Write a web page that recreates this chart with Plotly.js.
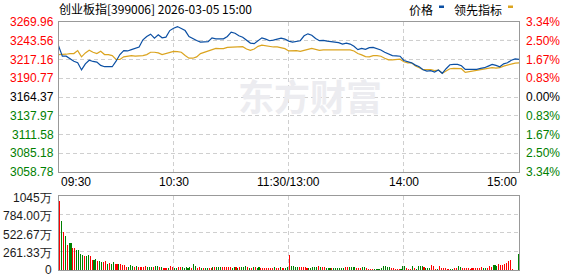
<!DOCTYPE html>
<html>
<head>
<meta charset="utf-8">
<script src="https://cdn.plot.ly/plotly-3.0.1.min.js"></script>
<style>html,body{margin:0;padding:0;background:#fff;}#chart{width:578px;height:276px;}</style>
</head>
<body>
<div id="chart"></div>
<script>
// ---------- data ----------
const titleText = "创业板指[399006] 2026-03-05 15:00";
const prevClose = 3164.37;
const sampleStep = 2; // minutes between price samples
const price = [
3236.6,3221.8,3221.8,3218.1,3214.8,3212.5,3202.5,3211.1,3216.2,3214.4,
3213.5,3208.8,3207.0,3207.0,3207.0,3214.8,3224.1,3229.7,3229.2,3231.0,
3232.4,3234.8,3244.9,3249.6,3252.8,3247.3,3251.9,3247.7,3248.6,3257.9,
3261.1,3263.5,3260.7,3257.9,3249.6,3246.3,3244.0,3241.7,3242.2,3242.2,
3247.7,3246.3,3246.3,3246.3,3249.6,3255.6,3254.2,3250.5,3248.6,3244.0,
3240.3,3239.4,3244.0,3247.7,3245.9,3243.6,3244.5,3245.9,3247.3,3245.9,
3243.1,3241.7,3242.6,3243.6,3250.5,3253.3,3251.4,3246.8,3243.6,3244.0,
3243.1,3242.6,3241.2,3240.8,3238.9,3240.3,3238.9,3235.7,3231.0,3232.9,
3231.5,3233.8,3234.3,3232.4,3230.6,3227.4,3224.6,3222.7,3222.3,3221.8,
3215.8,3213.9,3212.5,3209.3,3207.0,3202.8,3200.9,3201.4,3199.6,3202.3,
3197.7,3204.2,3209.8,3210.2,3210.2,3208.4,3203.3,3203.3,3203.3,3203.3,
3204.7,3205.6,3207.9,3210.2,3208.8,3207.0,3211.1,3212.5,3216.2,3218.1,
3217.2];
const leading = [
3224.1,3224.1,3224.6,3225.5,3225.5,3229.7,3220.9,3226.4,3230.1,3227.4,
3225.5,3228.7,3224.1,3224.1,3222.7,3217.2,3217.2,3220.9,3221.8,3222.7,
3221.8,3221.8,3222.7,3224.1,3227.4,3227.4,3226.4,3224.1,3225.5,3227.4,
3228.7,3228.3,3227.4,3222.7,3219.0,3219.0,3220.9,3225.5,3227.4,3229.7,
3231.0,3232.9,3232.4,3232.4,3234.3,3234.3,3235.2,3235.2,3235.2,3232.0,
3230.1,3232.0,3235.7,3237.5,3236.6,3235.2,3234.8,3234.8,3233.4,3232.4,
3229.2,3229.7,3229.7,3228.7,3229.7,3231.5,3232.9,3231.5,3230.1,3230.6,
3230.6,3230.6,3230.6,3230.6,3229.7,3229.7,3230.6,3229.2,3225.5,3223.6,
3221.3,3220.9,3222.7,3222.7,3221.8,3219.0,3216.7,3216.7,3217.6,3217.6,
3213.9,3212.5,3212.5,3207.9,3205.6,3202.8,3202.8,3202.8,3201.4,3202.3,
3197.7,3201.4,3204.2,3204.7,3204.7,3204.2,3199.1,3200.0,3200.9,3201.4,
3202.3,3204.2,3204.7,3205.6,3205.1,3205.6,3207.9,3209.3,3211.1,3212.1,
3212.5];
// volume per minute (万), and direction (r = up, g = down)
const volume = [
975,685,540,482,351,380,380,307,307,278,
278,230,206,191,191,206,191,148,148,162,
133,133,118,118,133,89,104,89,118,89,
89,89,89,75,75,46,46,75,60,46,
60,46,46,46,46,60,46,46,46,46,
60,60,36,46,31,31,22,31,60,46,
31,31,46,46,46,31,46,31,46,31,
89,60,31,46,31,22,31,31,31,22,
46,46,36,36,36,36,36,36,36,36,
22,36,36,22,36,36,36,60,46,22,
22,36,36,22,36,22,22,22,22,22,
22,22,36,22,22,36,22,22,22,36,
205,60,60,36,36,36,36,36,36,22,
22,22,46,46,46,60,46,36,36,22,
22,22,22,22,22,22,22,22,22,36,
36,36,36,36,46,22,22,22,46,36,
22,15,15,15,15,15,15,15,29,53,
53,44,44,29,24,15,15,15,15,53,
53,29,15,15,53,29,15,53,53,53,
44,29,29,29,68,53,15,15,53,29,
29,29,15,15,15,15,29,29,53,44,
29,29,29,29,15,29,29,29,29,29,
39,29,29,29,53,44,68,68,53,82,
68,68,82,97,126,140,10,0,0,228];
const direction = (
"rgrgrggrrg"+"gggrggrrgg"+"rggrrgrggr"+"rgrrrrgggr"+"grrrrrgggr"+"ggrgrrrgrr"+"ggrrgggggr"+"ggrrgrggrr"+
"grgggrrrrr"+"ggrgrgggrg"+"rgrggrrrrr"+"rrgrrgrrgg"+"rggggrrrrr"+"gggggrgrrg"+"ggrggggggr"+"rggggrrrgg"+
"rrrrgggggg"+"gggrrrrrgg"+"grrrgrgggg"+"rgggrrrgrr"+"rrrrggrrgg"+"rrrrrrrrrr"+"rggrrrgggr"+"rrrrrrrrrg").split("");
const levels = [3269.96,3243.56,3217.16,3190.77,3164.37,3137.97,3111.58,3085.18,3058.78];
const levelLabels = ["3269.96","3243.56","3217.16","3190.77","3164.37","3137.97","3111.58","3085.18","3058.78"];
const pctLabels = ["3.34%","2.50%","1.67%","0.83%","0.00%","0.83%","1.67%","2.50%","3.34%"];
const timeTicks = [0,60,120,180,240];
const timeLabels = ["09:30","10:30","11:30/13:00","14:00","15:00"];
const volTicks = [1045,784,522.67,261.33,0];
const volLabels = ["1045万","784.00万","522.67万","261.33万","0"];
const legendNames = ["价格","领先指标"];

// ---------- styling ----------
const W = 578, H = 276;
const px = v => v / W;
const py = v => 1 - v / H;
const RED = "#ff0000", GREEN = "#008000", BLACK = "#000000";
const BLUE = "#0b4fa3", ORANGE = "#dba41f";
const NUMFONT = "Liberation Sans, Arial, sans-serif";
const CJK = "Noto Sans CJK SC, sans-serif";
const GRID = "#cfcfcf", BORDER = "#999999";

const priceX = price.map((_, i) => i * sampleStep);
const volX = volume.map((_, i) => i + 0.5);

const traces = [
  {x: priceX, y: leading, type: "scatter", mode: "lines", line: {color: ORANGE, width: 1.2}, xaxis: "x", yaxis: "y", hoverinfo: "skip"},
  {x: priceX, y: price, type: "scatter", mode: "lines", line: {color: BLUE, width: 1.2}, xaxis: "x", yaxis: "y", hoverinfo: "skip"},
  {x: volX, y: volume, type: "bar", width: 0.55, marker: {color: direction.map(d => d === "r" ? RED : GREEN), line: {width: 0}}, xaxis: "x2", yaxis: "y2", hoverinfo: "skip"}
];

const xdom = [px(58.5), px(519)];
const axisX = {domain: xdom, range: [0, 240], tickvals: [60, 120, 180], showticklabels: false, ticks: "",
  showgrid: true, gridcolor: GRID, griddash: "4px,3px", gridwidth: 1, zeroline: false,
  showline: true, mirror: true, linecolor: BORDER, linewidth: 1, fixedrange: true};
const layout = {
  width: W, height: H, margin: {l: 0, r: 0, t: 0, b: 0},
  paper_bgcolor: "#fff", plot_bgcolor: "#fff", showlegend: false, bargap: 0,
  xaxis: Object.assign({}, axisX, {anchor: "y"}),
  yaxis: {domain: [py(172), py(22)], range: [levels[levels.length - 1], levels[0]], tickvals: levels.slice(1, -1),
    showticklabels: false, ticks: "", showgrid: true, gridcolor: GRID, griddash: "4px,3px", zeroline: false,
    showline: true, mirror: true, linecolor: BORDER, linewidth: 1, anchor: "x"},
  xaxis2: Object.assign({}, axisX, {anchor: "y2"}),
  yaxis2: {domain: [py(270), py(196)], range: [0, volTicks[0]], tickvals: volTicks.slice(1, -1),
    showticklabels: false, ticks: "", showgrid: true, gridcolor: GRID, griddash: "4px,3px", zeroline: false,
    showline: true, mirror: true, linecolor: BORDER, linewidth: 1, anchor: "x2"},
  annotations: [], shapes: []
};
const A = layout.annotations;
// watermark
A.push({text: "东方财富", xref: "paper", yref: "paper", x: px(310), y: py(95), showarrow: false,
  font: {family: CJK, size: 36, color: "#ececf0", weight: 700}, xanchor: "center", yanchor: "middle"});
// title
A.push({text: titleText, xref: "paper", yref: "paper", x: px(57), y: py(8.5), xanchor: "left", yanchor: "middle",
  showarrow: false, font: {family: CJK, size: 12, color: BLACK}});
// legend
A.push({text: legendNames[0], xref: "paper", yref: "paper", x: px(407), y: py(9), xanchor: "left", yanchor: "middle",
  showarrow: false, font: {family: CJK, size: 12, color: BLACK}});
A.push({text: legendNames[1], xref: "paper", yref: "paper", x: px(452), y: py(9), xanchor: "left", yanchor: "middle",
  showarrow: false, font: {family: CJK, size: 12, color: BLACK}});
layout.shapes.push({type: "rect", xref: "paper", yref: "paper", x0: px(439), x1: px(444), y0: py(8), y1: py(5.5), fillcolor: BLUE, line: {width: 0}});
layout.shapes.push({type: "rect", xref: "paper", yref: "paper", x0: px(508), x1: px(513), y0: py(8), y1: py(5.5), fillcolor: ORANGE, line: {width: 0}});
// price axis labels
levels.forEach((lv, i) => {
  const c = lv > prevClose + 0.001 ? RED : (lv < prevClose - 0.001 ? GREEN : BLACK);
  A.push({text: levelLabels[i], xref: "paper", yref: "y", x: px(55.5), y: lv, xanchor: "right", yanchor: "middle",
    showarrow: false, font: {family: NUMFONT, size: 12, color: c}});
  A.push({text: pctLabels[i], xref: "paper", yref: "y", x: px(524), y: lv, xanchor: "left", yanchor: "middle",
    showarrow: false, font: {family: NUMFONT, size: 12, color: c}});
});
// time labels
timeTicks.forEach((t, i) => {
  A.push({text: timeLabels[i], xref: "x", yref: "paper", x: t, y: py(181.5),
    xanchor: i === 0 ? "left" : (i === timeTicks.length - 1 ? "right" : "center"), yanchor: "middle",
    showarrow: false, font: {family: NUMFONT, size: 12, color: BLACK}});
});
// volume labels
volTicks.forEach((v, i) => {
  A.push({text: volLabels[i], xref: "paper", yref: "y2", x: px(53.5), y: v, yshift: i === volTicks.length - 1 ? 0 : -2,
    xanchor: "right", yanchor: "middle", showarrow: false, font: {family: NUMFONT, size: 12, color: "#1a1a1a"}});
});

Plotly.newPlot("chart", traces, layout, {staticPlot: true, displayModeBar: false});
</script>
</body>
</html>
